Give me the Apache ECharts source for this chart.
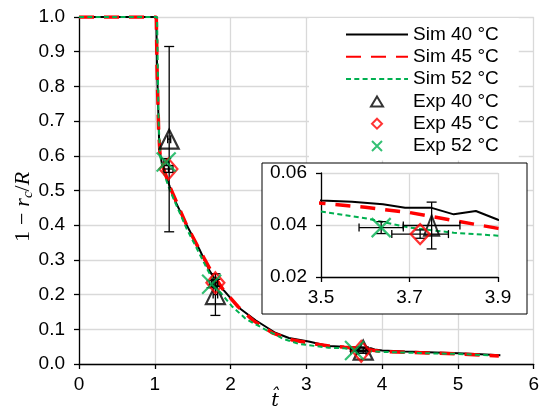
<!DOCTYPE html>
<html><head><meta charset="utf-8">
<script src="https://cdn.jsdelivr.net/npm/echarts@6/dist/echarts.min.js"></script>
<style>html,body{margin:0;padding:0;background:#fff}#c{width:542px;height:409px}</style>
</head><body><div id="c"></div>
<script>
// ---- data ----
const sim40T = [0, 1.02, 1.03, 1.05, 1.06, 1.1, 1.2, 1.28, 1.41, 1.59, 1.72, 1.85, 1.92, 2.11, 2.33, 2.59, 2.77, 3.03, 3.29, 3.5, 3.57, 3.64, 3.69, 3.75, 3.8, 3.85, 3.9, 4.0, 4.3, 4.6, 5.0, 5.3, 5.56];
const sim40  = [1, 1, 0.85, 0.7, 0.62, 0.57, 0.51, 0.465, 0.405, 0.33, 0.27, 0.225, 0.21, 0.162, 0.126, 0.09, 0.075, 0.065, 0.052, 0.0494, 0.0489, 0.048, 0.0466, 0.0466, 0.0441, 0.0454, 0.042, 0.039, 0.036, 0.034, 0.031, 0.028, 0.025];
const sim45T = [0, 1.02, 1.03, 1.05, 1.07, 1.12, 1.2, 1.3, 1.42, 1.6, 1.75, 1.9, 2.1, 2.3, 2.55, 2.8, 3.1, 3.3, 3.5, 3.6, 3.7, 3.8, 3.9, 4.0, 4.3, 4.6, 5.0, 5.3, 5.54];
const sim45  = [1, 1, 0.85, 0.68, 0.6, 0.56, 0.51, 0.46, 0.4, 0.325, 0.265, 0.215, 0.165, 0.125, 0.09, 0.07, 0.058, 0.052, 0.0484, 0.0468, 0.0448, 0.0417, 0.0387, 0.036, 0.034, 0.032, 0.029, 0.026, 0.023];
const sim52T = [0, 1.03, 1.04, 1.05, 1.07, 1.12, 1.2, 1.3, 1.42, 1.55, 1.7, 1.85, 2.02, 2.2, 2.46, 2.7, 2.9, 3.29, 3.5, 3.6, 3.7, 3.8, 3.9, 4.0, 4.3, 4.6, 5.0, 5.4];
const sim52  = [1, 1, 0.85, 0.7, 0.6, 0.55, 0.5, 0.45, 0.39, 0.335, 0.27, 0.21, 0.166, 0.13, 0.099, 0.072, 0.058, 0.047, 0.0452, 0.0426, 0.039, 0.037, 0.0359, 0.035, 0.033, 0.031, 0.029, 0.025];

const exp40T = [1.19, 1.80, 3.75];
const exp40Y = [0.648, 0.200, 0.0398];
const exp40TErr = [0.02, 0.03, 0.064];
const exp40YErr = [0.267, 0.06, 0.009];
const exp45T = [1.18, 1.80, 3.724];
const exp45Y = [0.562, 0.234, 0.0365];
const exp45TErr = [0.06, 0.03, 0.064];
const exp45YErr = [0.01, 0.01, 0.0016];
const exp52T = [1.15, 1.75, 3.636];
const exp52Y = [0.582, 0.230, 0.039];
const exp52TErr = [0.03, 0.03, 0.05];
const exp52YErr = [0.01, 0.01, 0.0023];

const xTicksMain = [0, 1, 2, 3, 4, 5, 6];
const xTicksInset = [3.5, 3.7, 3.9];
const yTicksInset = [0.02, 0.04, 0.06];

// ---- build ----
const pairs = (xs, ys) => xs.map((x, i) => [x, ys[i]]);
const errRows = (xs, ys, ex, ey) => xs.map((x, i) => [x, ys[i], ex[i], ey[i]]);
const allErr = [].concat(
  errRows(exp40T, exp40Y, exp40TErr, exp40YErr),
  errRows(exp45T, exp45Y, exp45TErr, exp45YErr),
  errRows(exp52T, exp52Y, exp52TErr, exp52YErr));

const FONT = 'Liberation Sans, Arial, sans-serif';
const FS = 19;
const GREEN = '#00b050';
const RED = '#ff0000';
const GRIDC = '#d9d9d9';

function errRender(capV, capH) {
  return function (params, api) {
    const x = api.value(0), y = api.value(1), ex = api.value(2), ey = api.value(3);
    const c = api.coord([x, y]);
    const t = api.coord([x, y + ey]), b = api.coord([x, y - ey]);
    const l = api.coord([x - ex, y]), r = api.coord([x + ex, y]);
    const st = { stroke: '#000', lineWidth: 1.3 };
    const ch = [];
    const ln = (x1, y1, x2, y2) => ch.push({ type: 'line', shape: { x1, y1, x2, y2 }, style: st });
    ln(c[0], t[1], c[0], b[1]);
    ln(c[0] - capV, t[1], c[0] + capV, t[1]);
    ln(c[0] - capV, b[1], c[0] + capV, b[1]);
    ln(l[0], c[1], r[0], c[1]);
    ln(l[0], c[1] - capH, l[0], c[1] + capH);
    ln(r[0], c[1] - capH, r[0], c[1] + capH);
    return { type: 'group', children: ch };
  };
}

const XPATH = 'path://M0,0L20,20M20,0L0,20';
const TRI_ICON = 'path://M6,0L12,10L0,10Z';
const DIA_ICON = 'path://M6,0L12,6L6,12L0,6Z';
const X_ICON = 'path://M0,0L10,10M10,0L0,10';

function simSeries(name, xs, ys, ls, xi, z) {
  return { name, type: 'line', xAxisIndex: xi, yAxisIndex: xi, data: pairs(xs, ys), symbol: 'none',
    lineStyle: ls, itemStyle: { color: ls.color }, z, clip: true, animation: false, silent: true };
}
const ls40 = { color: '#000', width: 2, type: 'solid' };
const ls45 = { color: RED, width: 3.5, type: [15, 10], cap: 'butt' };
const ls52 = { color: GREEN, width: 2, type: [5, 3.3], cap: 'butt' };

function expSeries(name, xs, ys, sym, size, col, xi, z) {
  return { name, type: 'scatter', xAxisIndex: xi, yAxisIndex: xi, data: pairs(xs, ys), symbol: sym, symbolSize: size,
    itemStyle: { color: 'rgba(0,0,0,0)', borderColor: col, borderWidth: 2.2 }, z, clip: true, animation: false, silent: true };
}

function axisCommon(z) {
  return {
    z,
    axisLine: { show: true, onZero: false, lineStyle: { color: '#000', width: 1.3 } },
    axisTick: { show: true, inside: false, length: 5, lineStyle: { color: '#000', width: 1.3 } },
    splitLine: { show: true, lineStyle: { color: GRIDC, width: 1.3 } },
    axisLabel: { color: '#000', fontFamily: FONT, fontSize: FS }
  };
}

const chart = echarts.init(document.getElementById('c'), null, { renderer: 'canvas' });
chart.setOption({
  animation: false,
  backgroundColor: '#fff',
  grid: [
    { left: 79, top: 17, width: 458, height: 347 },
    { left: 321, top: 173, width: 177, height: 104 }
  ],
  xAxis: [
    Object.assign(axisCommon(0), { type: 'value', gridIndex: 0, min: xTicksMain[0], max: xTicksMain[xTicksMain.length - 1], interval: 1,
      axisLabel: Object.assign(axisCommon(0).axisLabel, { margin: 11, formatter: v => String(Math.round(v)) }) }),
    Object.assign(axisCommon(6), { type: 'value', gridIndex: 1, min: xTicksInset[0], max: xTicksInset[2], interval: 0.2,
      axisLabel: Object.assign(axisCommon(6).axisLabel, { margin: 11, formatter: v => v.toFixed(1) }) })
  ],
  yAxis: [
    Object.assign(axisCommon(0), { type: 'value', gridIndex: 0, min: 0, max: 1, interval: 0.1,
      axisLabel: Object.assign(axisCommon(0).axisLabel, { margin: 14, formatter: v => v.toFixed(1) }) }),
    Object.assign(axisCommon(6), { type: 'value', gridIndex: 1, min: yTicksInset[0], max: yTicksInset[2], interval: 0.02,
      axisLabel: Object.assign(axisCommon(6).axisLabel, { margin: 14, formatter: v => v.toFixed(2) }) })
  ],
  legend: {
    orient: 'vertical', left: 309, top: 18, z: 20,
    padding: [7, 20, 5, 36],
    backgroundColor: '#fff',
    itemWidth: 62, itemHeight: 10, itemGap: 3.3,
    selectedMode: false,
    textStyle: { color: '#000', fontFamily: FONT, fontSize: FS, lineHeight: 19 },
    data: [
      { name: 'Sim 40 °C', itemStyle: { opacity: 0 } },
      { name: 'Sim 45 °C', itemStyle: { opacity: 0 } },
      { name: 'Sim 52 °C', itemStyle: { opacity: 0 } },
      { name: 'Exp 40 °C', icon: TRI_ICON },
      { name: 'Exp 45 °C', icon: DIA_ICON },
      { name: 'Exp 52 °C', icon: X_ICON }
    ]
  },
  graphic: [
    { type: 'rect', z: 5, shape: { x: 262, y: 163, width: 265, height: 151 },
      style: { fill: '#fff', stroke: '#000', lineWidth: 1 } },
    { type: 'text', z: 10, x: 23, y: 207, rotation: Math.PI / 2,
      style: { text: '{a|1}{m|−}{i|r}{s|c}{a|/}{i|R}', align: 'center', verticalAlign: 'middle',
        rich: {
          a: { fontFamily: 'Liberation Serif, serif', fontSize: 22, fill: '#000', lineHeight: 26, verticalAlign: 'middle' },
          m: { fontFamily: 'Liberation Serif, serif', fontSize: 22, fill: '#000', lineHeight: 26, verticalAlign: 'middle', padding: [0, 6, 0, 6] },
          i: { fontFamily: 'Liberation Serif, serif', fontStyle: 'italic', fontSize: 22, fill: '#000', lineHeight: 26, verticalAlign: 'middle' },
          s: { fontFamily: 'Liberation Serif, serif', fontStyle: 'italic', fontSize: 15, fill: '#000', lineHeight: 26, verticalAlign: 'bottom' }
        } } },
    { type: 'text', z: 10, x: 275, y: 401,
      style: { text: 't\u0302', fontFamily: 'DejaVu Serif, Liberation Serif, serif', fontStyle: 'italic', fontSize: 19,
        fill: '#000', align: 'center', verticalAlign: 'middle' } }
  ],
  series: [
    simSeries('Sim 40 °C', sim40T, sim40, ls40, 0, 2),
    simSeries('Sim 45 °C', sim45T, sim45, ls45, 0, 2),
    simSeries('Sim 52 °C', sim52T, sim52, ls52, 0, 2),
    { type: 'custom', xAxisIndex: 0, yAxisIndex: 0, data: allErr, renderItem: errRender(5, 4), z: 3, clip: true, silent: true, animation: false },
    expSeries('Exp 40 °C', exp40T, exp40Y, 'triangle', [19, 19], '#000', 0, 4),
    expSeries('Exp 45 °C', exp45T, exp45Y, 'diamond', [18, 21], RED, 0, 4),
    expSeries('Exp 52 °C', exp52T, exp52Y, XPATH, [19, 19], GREEN, 0, 4),

    simSeries('Sim 40 °C', sim40T, sim40, ls40, 1, 7),
    simSeries('Sim 45 °C', sim45T, sim45, ls45, 1, 7),
    simSeries('Sim 52 °C', sim52T, sim52, ls52, 1, 7),
    { type: 'custom', xAxisIndex: 1, yAxisIndex: 1, data: allErr, renderItem: errRender(5, 4), z: 8, clip: true, silent: true, animation: false },
    expSeries('Exp 40 °C', exp40T, exp40Y, 'triangle', [15, 20], '#000', 1, 9),
    expSeries('Exp 45 °C', exp45T, exp45Y, 'diamond', [19, 20], RED, 1, 9),
    expSeries('Exp 52 °C', exp52T, exp52Y, XPATH, [19, 19], GREEN, 1, 9)
  ]
});
</script>
</body></html>
